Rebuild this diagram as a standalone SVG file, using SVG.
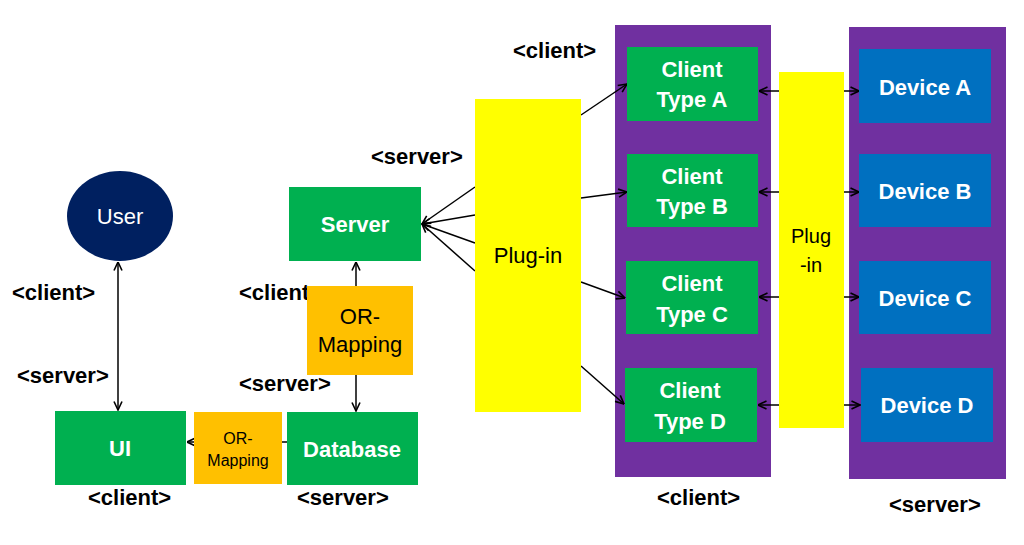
<svg xmlns="http://www.w3.org/2000/svg" width="1024" height="545" viewBox="0 0 1024 545">
<defs>
<marker id="ah" viewBox="0 0 10 10" refX="9.5" refY="5" markerWidth="10" markerHeight="10" markerUnits="userSpaceOnUse" orient="auto-start-reverse">
<path d="M1,1 L9.5,5 L1,9" fill="none" stroke="#000" stroke-width="1.6"/>
</marker>
<style>
.t{font-family:"Liberation Sans",Arial,sans-serif;}
.lbl{font-family:"Liberation Sans",Arial,sans-serif;font-weight:bold;font-size:22px;fill:#000;}
.w{fill:#fff;font-weight:bold;font-size:22px;text-anchor:middle;}
.k{fill:#000;font-size:22px;text-anchor:middle;}
.g{fill:#00B050;}
.p{fill:#7030A0;}
.b{fill:#0070C0;}
.y{fill:#FFFF00;}
.o{fill:#FFC000;}
.c{stroke:#000;stroke-width:1.5;fill:none;}
</style>
</defs>
<rect width="1024" height="545" fill="#fff"/>

<g id="labels">
<text class="lbl" x="12" y="300">&lt;client&gt;</text>
<text class="lbl" x="17" y="383">&lt;server&gt;</text>
<text class="lbl" x="239" y="300">&lt;client&gt;</text>
<text class="lbl" x="239" y="391">&lt;server&gt;</text>
<text class="lbl" x="88" y="505">&lt;client&gt;</text>
<text class="lbl" x="297" y="505">&lt;server&gt;</text>
<text class="lbl" x="513" y="58">&lt;client&gt;</text>
<text class="lbl" x="371" y="164">&lt;server&gt;</text>
<text class="lbl" x="657" y="505">&lt;client&gt;</text>
<text class="lbl" x="889" y="512">&lt;server&gt;</text>
</g>

<g id="client-container"><rect class="p" x="615" y="25" width="156" height="452"/></g>
<g id="server-container"><rect class="p" x="849" y="27" width="157" height="452"/></g>

<g id="connectors">
<line class="c" x1="118" y1="262" x2="118" y2="410" marker-start="url(#ah)" marker-end="url(#ah)"/>
<line class="c" x1="356" y1="286" x2="356" y2="262" marker-end="url(#ah)"/>
<line class="c" x1="356" y1="375" x2="356" y2="411" marker-end="url(#ah)"/>
<line class="c" x1="287" y1="442" x2="187" y2="442" marker-end="url(#ah)"/>
<line class="c" x1="475" y1="187" x2="422" y2="224" marker-end="url(#ah)"/>
<line class="c" x1="475" y1="215" x2="422" y2="224" marker-end="url(#ah)"/>
<line class="c" x1="475" y1="243" x2="422" y2="224" marker-end="url(#ah)"/>
<line class="c" x1="475" y1="271" x2="422" y2="224" marker-end="url(#ah)"/>
<line class="c" x1="581" y1="115" x2="627" y2="84" marker-end="url(#ah)"/>
<line class="c" x1="581" y1="198" x2="627" y2="192" marker-end="url(#ah)"/>
<line class="c" x1="581" y1="282" x2="625" y2="298" marker-end="url(#ah)"/>
<line class="c" x1="581" y1="366" x2="624" y2="404" marker-end="url(#ah)"/>
<line class="c" x1="759" y1="91" x2="859" y2="91" marker-start="url(#ah)" marker-end="url(#ah)"/>
<line class="c" x1="759" y1="192" x2="859" y2="192" marker-start="url(#ah)" marker-end="url(#ah)"/>
<line class="c" x1="759" y1="297" x2="859" y2="297" marker-start="url(#ah)" marker-end="url(#ah)"/>
<line class="c" x1="758" y1="405" x2="860" y2="405" marker-start="url(#ah)" marker-end="url(#ah)"/>
</g>

<g id="user"><ellipse cx="120" cy="216" rx="53" ry="45" fill="#002060"/><text class="t" x="120" y="224" font-size="22" fill="#fff" text-anchor="middle">User</text></g>
<g id="server"><rect class="g" x="289" y="187" width="132" height="74"/><text class="t w" x="355" y="232">Server</text></g>
<g id="or-mapping-1"><rect class="o" x="307" y="286" width="106" height="89"/><text class="t k" x="360" y="324">OR-</text><text class="t k" x="360" y="352">Mapping</text></g>
<g id="ui"><rect class="g" x="55" y="411" width="131" height="74"/><text class="t w" x="120" y="456">UI</text></g>
<g id="or-mapping-2"><rect class="o" x="194" y="412" width="88" height="72"/><text class="t" x="238" y="444" font-size="16" text-anchor="middle">OR-</text><text class="t" x="238" y="466" font-size="16" text-anchor="middle">Mapping</text></g>
<g id="database"><rect class="g" x="287" y="412" width="131" height="73"/><text class="t w" x="352" y="457">Database</text></g>
<g id="plugin-1"><rect class="y" x="475" y="99" width="106" height="313"/><text class="t k" x="528" y="263">Plug-in</text></g>
<g id="client-a"><rect class="g" x="627" y="47" width="131" height="74"/><text class="t w" x="692" y="77">Client</text><text class="t w" x="692" y="107">Type A</text></g>
<g id="client-b"><rect class="g" x="627" y="154" width="131" height="73"/><text class="t w" x="692" y="184">Client</text><text class="t w" x="692" y="214">Type B</text></g>
<g id="client-c"><rect class="g" x="626" y="261" width="132" height="73"/><text class="t w" x="692" y="291">Client</text><text class="t w" x="692" y="322">Type C</text></g>
<g id="client-d"><rect class="g" x="625" y="368" width="132" height="74"/><text class="t w" x="690" y="398">Client</text><text class="t w" x="690" y="429">Type D</text></g>
<g id="plugin-2"><rect class="y" x="779" y="72" width="65" height="356"/><text class="t" x="811" y="243" font-size="20" text-anchor="middle">Plug</text><text class="t" x="811" y="272" font-size="20" text-anchor="middle">-in</text></g>
<g id="device-a"><rect class="b" x="859" y="49" width="132" height="74"/><text class="t w" x="925" y="95">Device A</text></g>
<g id="device-b"><rect class="b" x="859" y="154" width="132" height="73"/><text class="t w" x="925" y="199">Device B</text></g>
<g id="device-c"><rect class="b" x="859" y="261" width="132" height="73"/><text class="t w" x="925" y="306">Device C</text></g>
<g id="device-d"><rect class="b" x="861" y="368" width="132" height="74"/><text class="t w" x="927" y="413">Device D</text></g>
</svg>
